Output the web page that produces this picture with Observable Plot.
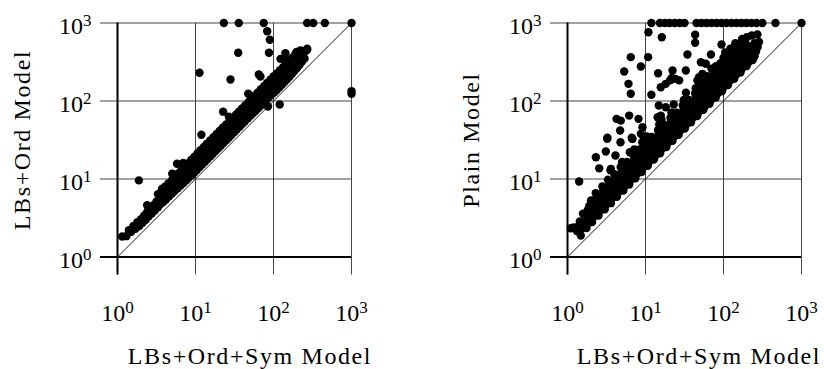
<!DOCTYPE html>
<html>
<head>
<meta charset="utf-8">
<script src="https://cdn.jsdelivr.net/npm/d3@7"></script>
<script src="https://cdn.jsdelivr.net/npm/@observablehq/plot@0.6"></script>
<style>
  html, body { margin: 0; padding: 0; background: white; }
  #wrap { display: flex; width: 824px; height: 369px; }
  #wrap > div { width: 412px; height: 369px; }
  #wrap svg, #wrap svg text { font-family: 'Liberation Serif', 'DejaVu Serif', serif !important; }
</style>
</head>
<body>
<div id="wrap"><div id="left"></div><div id="right"></div></div>
<script>
// ---------- data ----------
const tickValues = [1, 10, 100, 1000];
const tickExponents = ["0", "1", "2", "3"];
const diagonal = [1, 1000];

const xTitle = "LBs+Ord+Sym Model";
const leftYTitle = "LBs+Ord Model";
const rightYTitle = "Plain Model";

// Left panel: LBs+Ord+Sym (x) vs LBs+Ord (y)
const leftLow = [[1.3,1.85],[1.5,2.1],[1.7,2.3],[1.9,2.5],[2.1,2.75],[2.3,3.0],[2.5,3.3],[2.75,3.6],[3.0,3.95],[3.3,4.35],[3.6,4.8],[3.9,5.1],[4.2,5.5],[4.6,6.0],[5.0,6.5],[5.4,7.0],[5.9,7.6],[6.4,8.2],[7.0,8.9],[7.6,9.6],[8.2,10.4],[8.9,11.2],[9.6,12.0],[10.4,13.0],[11.3,14.2],[12.2,15.4],[13.2,16.6],[14.3,18.0],[15.5,19.5],[16.8,21.2],[18.2,23],[19.7,25],[21.3,27],[23,29.2],[25,31.7],[27,34.3],[29,37],[31.5,40],[34,43.5],[37,47],[40,51],[43,55],[47,60],[51,65],[55,70],[59,75],[64,81],[69,88],[75,95],[81,103],[87,111],[94,120],[102,128],[110,138],[119,150],[128,162],[138,175],[149,190],[160,205],[172,222],[185,242],[200,265],[215,290],[232,320],[250,350]];
const leftMid = [[1.15,1.83],[1.4,2.2],[1.6,2.5],[1.8,2.8],[2.0,3.05],[2.2,3.4],[2.4,3.75],[2.65,4.15],[2.9,4.6],[3.15,5.1],[3.45,5.6],[3.75,6.1],[4.05,6.6],[4.4,7.2],[4.8,7.9],[5.2,8.6],[5.65,9.3],[6.1,10.1],[6.6,11.0],[7.2,12.0],[7.8,13.0],[8.5,14.1],[9.2,15.3],[10.0,16.6],[10.8,18.0],[11.7,19.5],[12.7,21.1],[13.7,22.8],[14.9,24.7],[16.1,26.8],[17.5,29],[19,31.5],[20.5,34],[22.2,37],[24,40],[26,43.5],[28,47],[30.5,51],[33,55],[35.5,59],[38.5,64],[41.5,69],[45,75],[49,82],[53,89],[57,96],[62,104],[67,112],[72,121],[78,131],[84,142],[91,154],[98,166],[106,180],[114,194],[123,210],[133,227],[143,245],[154,265],[166,285],[179,308],[193,333],[208,360],[225,390],[245,420],[262,445]];
const leftHigh = [[3.3,6.4],[3.7,7.2],[4.1,8.0],[4.5,8.8],[5.0,9.7],[5.5,10.7],[6.0,11.8],[6.6,13.0],[7.3,14.3],[8.0,15.8],[8.8,17.5],[9.7,19.3],[10.6,21.2],[11.6,23.4],[12.8,25.8],[14,28.4],[15.4,31.2],[17,34.3],[18.6,37.8],[20.5,41.5],[22.5,45.7],[24.8,50.2],[27.2,55],[30,60.5],[33,66.5],[36,73],[39.5,80],[43.5,88],[48,97],[52,106],[57,117],[63,129],[69,142],[76,156],[83,171],[91,188],[100,206],[110,226],[121,248],[133,272],[146,300],[160,330],[175,360],[190,395],[205,425],[222,444],[270,467]];
const leftOutliers = [[23.1,1000],[35.9,1000],[75,1000],[270,1000],[323,1000],[455,1000],[1000,1000],[83,785],[89.7,609],[87.5,415],[35.3,415],[11.25,230],[28.1,189],[1000,134],[1000,124],[120,90],[85,85],[22.6,73],[26.8,63],[11.9,37],[1.88,9.6],[5.8,15.7],[6.95,16.1],[47.4,124],[64.7,219],[68,206],[142,410],[197,425],[270,453],[135,337],[2.4,4.6],[3.74,7.5],[5.03,11.7],[123,347]];

// Right panel: LBs+Ord+Sym (x) vs Plain (y)
const rightTopX = [11.9,15.3,17.7,20.4,23.7,27.4,31.6,45.1,52.2,60.5,70.2,81.3,94.2,109,127,147,170,197,228,265,315,464,1000];
const rightRow1 = [[1.75,2.35],[2.07,2.8],[2.5,3.4],[3.0,4.1],[3.6,4.9],[4.3,5.9],[5.2,7.1],[6.2,8.5],[7.4,10.2],[8.9,12.3],[10.7,14.8],[12.8,17.8],[15.4,21.3],[18.5,25.7],[22.2,30.8],[26.6,37],[31.9,44.5],[38.3,53.5],[46,64],[55.2,77],[66.2,92],[79.5,111],[95.4,133],[114,160],[137,192],[165,232],[198,280],[237,335]];
const rightRow2 = [[1.51,2.3],[1.82,2.7],[2.17,3.3],[2.61,3.9],[3.14,4.7],[3.76,5.7],[4.52,6.8],[5.42,8.1],[6.5,9.8],[7.8,11.7],[9.37,14.1],[11.2,16.8],[13.5,20.2],[16.2,24.3],[19.4,29.1],[23.3,35],[27.9,41.9],[33.5,50.3],[40.2,60.3],[48.3,72.5],[58,87],[69.5,104],[83.5,125],[100,150],[120,180],[144,216],[173,260],[208,312],[250,375]];
const rightRow3 = [[1.32,2.15],[1.58,2.55],[1.9,3.1],[2.28,3.75],[2.74,4.5],[3.29,5.4],[3.94,6.5],[4.73,7.8],[5.68,9.4],[6.81,11.3],[8.17,13.5],[9.81,16.2],[11.8,19.5],[14.1,23.3],[16.9,28],[20.3,33.5],[24.4,40.3],[29.3,48.3],[35.1,58],[42.2,69.6],[50.6,83.5],[60.7,100],[72.9,120],[87.5,144],[105,173],[126,208],[151,249],[181,299],[218,360],[261,430]];
const rightRow4 = [[1.39,2.5],[1.66,3.0],[2.0,3.6],[2.39,4.3],[2.88,5.2],[3.45,6.2],[4.14,7.5],[4.97,8.9],[5.96,10.7],[7.15,12.9],[8.58,15.4],[10.3,18.5],[12.4,22.3],[14.8,26.6],[17.7,31.9],[21.3,38.3],[25.6,46.1],[30.8,55.4],[36.9,66.4],[44.3,79.7],[53.1,95.6],[63.7,115],[76.5,138],[91.9,165],[110,198],[132,238],[159,286],[190,342],[229,412],[274,493]];
const rightRow5 = [[1.2,2.4],[1.44,2.85],[1.73,3.45],[2.07,4.15],[2.49,5.0],[2.99,6.0],[3.58,7.2],[4.3,8.6],[5.16,10.3],[6.19,12.4],[7.43,14.9],[8.92,17.8],[10.7,21.4],[12.8,25.6],[15.4,30.8],[18.5,37],[22.2,44.4],[26.6,53.2],[31.9,63.8],[38.3,76.6],[46,92],[55.2,110],[66.2,132],[79.5,159],[95.4,191],[114,229],[137,275],[165,330],[198,396],[237,475],[285,570]];
const rightRow6 = [[1.82,4.0],[2.17,4.8],[2.61,5.7],[3.14,6.9],[3.76,8.3],[4.52,9.9],[5.42,11.9],[6.5,14.3],[7.8,17.2],[9.37,20.6],[11.2,24.6],[13.5,29.7],[16.2,35.6],[19.4,42.7],[23.3,51.3],[27.9,61.4],[33.5,73.7],[40.2,88.4],[48.3,106],[58,128],[69.5,153],[83.5,184],[100,220],[120,264],[144,317],[173,381],[208,458],[250,550]];
const rightRow7 = [[1.58,3.6],[1.9,4.5],[2.28,5.5],[2.74,6.6],[3.29,7.9],[3.94,9.5],[4.73,11.4],[5.68,13.6],[6.81,16.3],[8.17,19.6],[9.81,23.5],[11.8,28.3],[14.1,33.8],[16.9,40.6],[20.3,48.7],[24.4,58.5],[29.3,70.3],[35.1,84.2],[42.2,101],[50.6,121],[60.7,146],[72.9,175],[87.5,210],[105,252],[126,302],[151,362],[181,434],[218,500]];
const rightRow8 = [[2.0,5.3],[2.39,6.3],[2.88,7.6],[3.45,9.1],[4.14,11.0],[4.97,13.2],[5.96,15.8],[7.15,18.9],[8.58,22.7],[10.3,27.3],[12.4,32.9],[14.8,39.2],[17.7,46.9],[21.3,56.4],[25.6,67.8],[30.8,81.6],[36.9,97.8],[44.3,117],[53.1,141],[63.7,169],[76.5,203],[91.9,244],[110,292],[132,350],[159,421],[190,504]];
const rightRow9 = [[2.3,6.6],[2.8,8.0],[3.3,9.8],[4.0,11.5],[4.8,14.2],[5.8,16.5],[7.0,20.5],[8.4,24.0],[10.1,29.5],[12.1,34.5],[14.5,42.5],[17.4,49.5],[20.9,61],[25.1,71],[30.1,88],[36.1,103],[43.3,126],[52,148],[62.4,182],[74.9,214],[89.9,262],[108,310],[130,375],[155,445],[185,520]];
const rightRow10 = [[3.6,13.5],[6.3,22],[9.5,34],[16,58],[23,90],[33,128],[47,180],[70,260],[100,360]];
const rightRow11 = [[5,16.5],[7.2,24],[10.5,35],[15,50],[21.5,71],[31,103],[44,146],[53,175],[63,208],[76,250],[91,300],[110,362],[132,435],[158,520],[190,620],[230,690]];
const rightOutliers = [[10.9,762],[16.2,658],[43.3,706],[43.3,557],[94.3,530],[272,712],[193,530],[5.33,239],[6.47,365],[6.05,166],[6.47,124],[8.72,277],[10.8,365],[14.5,227],[11.9,120],[15.7,150],[18.2,166],[20.7,184],[22.2,246],[21.7,198],[27,184],[34.5,395],[32.9,246],[4.25,59],[4.82,56],[6.17,65],[8.13,59],[3.25,33.8],[4.73,41.8],[6.8,32.7],[8.72,38],[3.1,22.5],[2.31,19],[2.55,13.7],[1.41,9.3],[1.1,2.34],[1.48,1.89],[56.6,83.4],[48.6,202],[53.8,223],[69,395],[51.3,314],[59.3,300],[46.4,184],[136,490],[150,515],[130,285],[124,403],[92,305],[18.2,83],[14.3,62],[15.7,65],[9.15,46],[6.67,33.8],[24.2,192],[14.8,87.5],[3.23,32.8],[4.78,29.6],[6.75,32.8],[4.12,20],[3.56,12.9],[9.1,29.6],[11.6,32.8],[123,470],[142,550],[173,625],[200,660],[80,280],[105,420]];

// ---------- drawing ----------
const toRows = (pairs) => pairs.map(([x, y]) => ({x, y}));
const leftData = toRows([...leftLow, ...leftMid, ...leftHigh, ...leftOutliers]);
const rightData = toRows([...rightRow1, ...rightRow2, ...rightRow3, ...rightRow4, ...rightRow5, ...rightRow6, ...rightRow7, ...rightRow8, ...rightRow9, ...rightRow10, ...rightRow11, ...rightOutliers, ...rightTopX.map(x => [x, 1000])]);

const FONT = "Liberation Serif";
const tickFmt = (d) => `10^${tickExponents[tickValues.indexOf(d)]}`;

function panel({data, yTitle, marginLeft, marginRight, yTitleDx, xTitleDx}) {
  const svg = Plot.plot({
    width: 412, height: 369,
    marginLeft, marginRight, marginTop: 22.5, marginBottom: 112.5,
    x: {type: "log", domain: [1, 1000], label: null},
    y: {type: "log", domain: [1, 1000], label: null},
    style: {fontFamily: FONT, fontSize: "24px", background: "white", color: "black", overflow: "visible"},
    marks: [
      Plot.gridX(tickValues, {stroke: "#444", strokeOpacity: 1, strokeWidth: 1, insetBottom: -18}),
      Plot.gridY(tickValues, {stroke: "#444", strokeOpacity: 1, strokeWidth: 1, insetLeft: -17}),
      Plot.ruleX([1], {stroke: "black", strokeWidth: 2, insetBottom: -18}),
      Plot.ruleY([1], {stroke: "black", strokeWidth: 2, insetLeft: -17}),
      Plot.line(diagonal, {x: d => d, y: d => d, stroke: "black", strokeWidth: 0.9}),
      Plot.dot(data, {x: "x", y: "y", r: 4.2, fill: "black", stroke: null}),
      Plot.axisX(tickValues, {tickSize: 0, tickPadding: 47, tickFormat: tickFmt, label: null, fontSize: 24, fontFamily: FONT}),
      Plot.axisY(tickValues, {tickSize: 0, tickPadding: 26, tickFormat: tickFmt, label: null, fontSize: 24, fontFamily: FONT, dy: 3}),
      Plot.text([xTitle], {frameAnchor: "bottom", textAnchor: "middle", lineAnchor: "middle", dx: xTitleDx, dy: 99, fontSize: 24, fontFamily: FONT, fill: "black"}),
      Plot.text([yTitle], {frameAnchor: "left", textAnchor: "middle", lineAnchor: "middle", dx: yTitleDx, rotate: -90, fontSize: 24, fontFamily: FONT, fill: "black"})
    ]
  });
  // superscripts and title spacing
  svg.querySelectorAll("text").forEach(t => {
    const m = /^10\^(\d)$/.exec(t.textContent);
    if (m) {
      t.textContent = "10";
      const s = document.createElementNS("http://www.w3.org/2000/svg", "tspan");
      s.setAttribute("dy", "-8");
      s.setAttribute("font-size", "17");
      s.textContent = m[1];
      t.appendChild(s);
    } else if (t.textContent === xTitle || t.textContent === yTitle) {
      t.style.letterSpacing = "1.6px";
    }
  });
  return svg;
}

document.getElementById("left").appendChild(panel({
  data: leftData, yTitle: leftYTitle, marginLeft: 117, marginRight: 61, yTitleDx: -95, xTitleDx: 15.5
}));
document.getElementById("right").appendChild(panel({
  data: rightData, yTitle: rightYTitle, marginLeft: 155, marginRight: 23, yTitleDx: -96, xTitleDx: 14.5
}));
</script>
</body>
</html>
